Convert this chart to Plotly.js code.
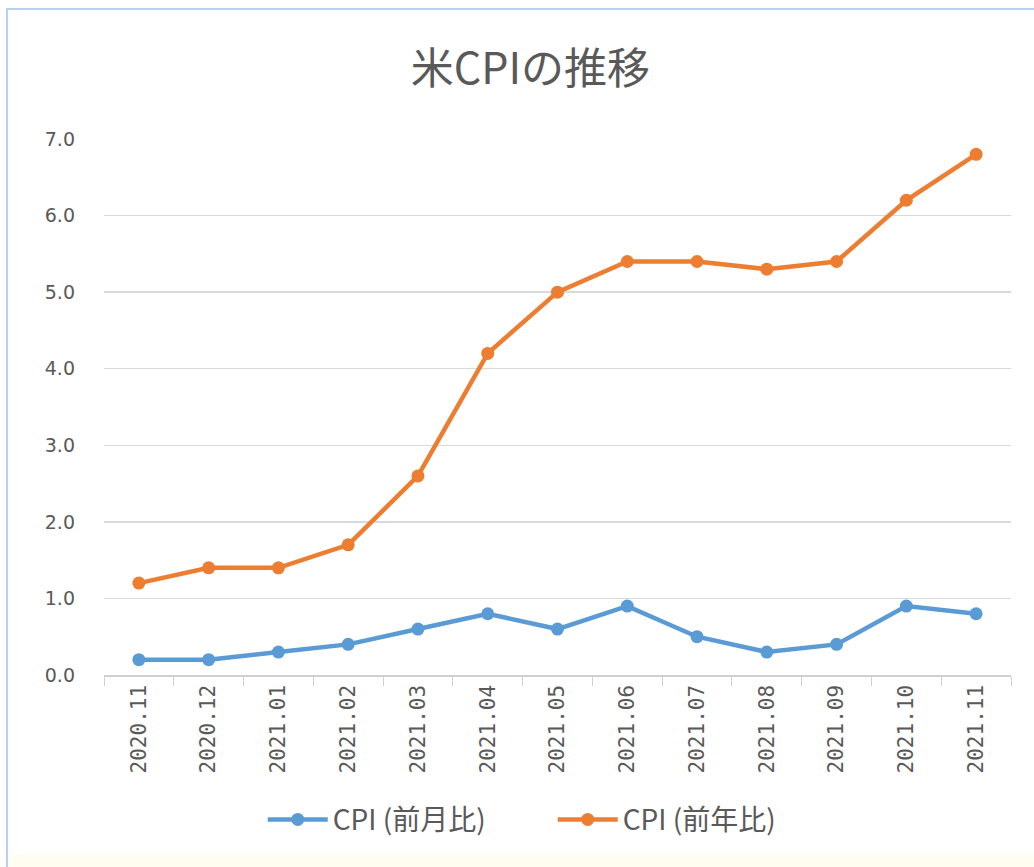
<!DOCTYPE html>
<html>
<head>
<meta charset="utf-8">
<script src="https://cdn.plot.ly/plotly-3.0.1.min.js"></script>
<style>
  html, body { margin: 0; padding: 0; background: #ffffff; }
  #chart { position: absolute; left: 0; top: 0; width: 1034px; height: 867px; }
  #frame { position: absolute; left: 6px; top: 8px; width: 1028px; height: 859px;
           border-left: 2px solid #b9cfee; border-top: 2px solid #b9cfee; pointer-events: none; }
  #strip { position: absolute; left: 8px; top: 855px; width: 1026px; height: 12px; background: #fffdf0; pointer-events: none; }
</style>
</head>
<body>
<div id="chart"></div>
<div id="strip"></div>
<div id="frame"></div>
<script>
const categories = ["2020.11","2020.12","2021.01","2021.02","2021.03","2021.04","2021.05","2021.06","2021.07","2021.08","2021.09","2021.10","2021.11"];
const cpiMoM = [0.2, 0.2, 0.3, 0.4, 0.6, 0.8, 0.6, 0.9, 0.5, 0.3, 0.4, 0.9, 0.8];
const cpiYoY = [1.2, 1.4, 1.4, 1.7, 2.6, 4.2, 5.0, 5.4, 5.4, 5.3, 5.4, 6.2, 6.8];
const seriesNames = ["CPI (前月比)", "CPI (前年比)"];
const yTicks = [0, 1, 2, 3, 4, 5, 6, 7];

const grey = '#595959';

const traces = [
  { x: categories, y: cpiMoM, name: seriesNames[0], type: 'scatter', mode: 'lines+markers',
    line: { color: '#5B9BD5', width: 4.5 }, marker: { color: '#5B9BD5', size: 13 } },
  { x: categories, y: cpiYoY, name: seriesNames[1], type: 'scatter', mode: 'lines+markers',
    line: { color: '#ED7D31', width: 4.5 }, marker: { color: '#ED7D31', size: 13 } }
];

const layout = {
  width: 1034, height: 867,
  margin: { l: 104, r: 23, t: 139, b: 192 },
  paper_bgcolor: '#ffffff', plot_bgcolor: '#ffffff',
  title: { text: '米CPIの推移', x: 0.513, xanchor: 'center', y: 0.921, yanchor: 'middle',
           font: { family: '"Noto Sans CJK JP", sans-serif', size: 43, color: grey } },
  xaxis: {
    type: 'category', range: [-0.5, categories.length - 0.5],
    tickangle: -90, tickson: 'boundaries', ticks: 'outside', ticklen: 9,
    tickcolor: '#d0d0d0', showline: true, linecolor: '#d0d0d0', linewidth: 1.5,
    showgrid: false, zeroline: false, automargin: false,
    tickfont: { family: '"DejaVu Sans Mono", monospace', size: 21, color: grey }
  },
  yaxis: {
    range: [0, 7], tickvals: yTicks, tickformat: '.1f', showgrid: true, gridcolor: '#d9d9d9', gridwidth: 1.5,
    zeroline: false, showline: false, ticks: '', ticklabelstandoff: 28, automargin: false,
    tickfont: { family: '"DejaVu Sans", sans-serif', size: 19, color: grey }
  },
  showlegend: true,
  legend: { orientation: 'h', x: 0.175, xanchor: 'left', y: -0.27, yanchor: 'middle',
            font: { family: '"Noto Sans CJK JP", sans-serif', size: 28, color: grey },
            itemwidth: 60, entrywidth: 215, entrywidthmode: 'pixels', traceorder: 'normal' }
};

Plotly.newPlot('chart', traces, layout, { displayModeBar: false, staticPlot: true });
</script>
</body>
</html>
